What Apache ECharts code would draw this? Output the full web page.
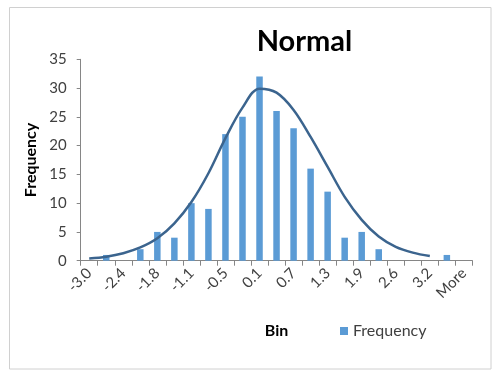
<!DOCTYPE html>
<html>
<head>
<meta charset="utf-8">
<script src="https://cdn.jsdelivr.net/npm/echarts@6/dist/echarts.min.js"></script>
<style>html,body{margin:0;padding:0;background:#fff}#c{width:500px;height:380px}</style>
</head>
<body>
<div id="c"></div>
<script>
var bins = ['-3.0','-2.7','-2.4','-2.1','-1.8','-1.4','-1.1','-0.8','-0.5','-0.2','0.1','0.4','0.7','1.0','1.3','1.6','1.9','2.3','2.6','2.9','3.2','3.5','More'];
var frequency = [0,1,0,2,5,4,10,9,22,25,32,26,23,16,12,4,5,2,0,0,0,1,0];
var normalCurve = [0.4,0.7,1.3,2.3,3.9,6.5,10.2,15.2,21.3,26.6,29.9,29.2,26.2,21.5,16.3,11.1,7.1,4.2,2.4,1.4,0.8,null,null];
var yTicks = {min:0, max:35, interval:5};

var FONT = 'Lato, "Open Sans", sans-serif';
var chart = echarts.init(document.getElementById('c'), null, {renderer:'canvas'});
chart.setOption({
  animation:false,
  backgroundColor:'#fff',
  textStyle:{fontFamily:FONT},
  graphic:[
    {type:'rect', shape:{x:9.5,y:7.5,width:481.5,height:361.5}, style:{fill:'none',stroke:'#d0d0d0',lineWidth:1}, silent:true, z:-1},
    {type:'text', x:304.5, y:42, style:{text:'Normal', font:'bold 29px '+FONT, fill:'#000', textAlign:'center', textVerticalAlign:'middle'}}
  ],
  legend:{
    left:335, top:318, icon:'rect', itemWidth:8, itemHeight:8, itemGap:6,
    data:['Frequency'],
    textStyle:{fontSize:16, color:'#404040', fontFamily:FONT}
  },
  grid:{left:80.7, right:27.6, top:59.3, bottom:119.3, containLabel:false},
  xAxis:{
    type:'category', data:bins, boundaryGap:true,
    name:'Bin', nameLocation:'middle', nameGap:62,
    nameTextStyle:{fontSize:16, fontWeight:'bold', color:'#000', fontFamily:FONT},
    axisLine:{lineStyle:{color:'#868686'}},
    axisTick:{show:true, interval:0, length:5, lineStyle:{color:'#868686'}},
    axisLabel:{interval:1, rotate:45, margin:10, fontSize:15, color:'#404040', fontFamily:FONT},
    splitLine:{show:false}
  },
  yAxis:{
    type:'value', min:yTicks.min, max:yTicks.max, interval:yTicks.interval,
    name:'Frequency', nameLocation:'middle', nameGap:34,
    nameTextStyle:{fontSize:16, fontWeight:'bold', color:'#000', fontFamily:FONT},
    axisLine:{show:true, lineStyle:{color:'#868686'}},
    axisTick:{show:true, length:4, lineStyle:{color:'#868686'}},
    axisLabel:{margin:14, fontSize:15, color:'#404040', fontFamily:FONT},
    splitLine:{show:false}
  },
  series:[
    {name:'Frequency', type:'bar', data:frequency, barWidth:6.5, itemStyle:{color:'#5B9BD5'}},
    {name:'Normal', type:'line', data:normalCurve, smooth:0.35, symbol:'none', connectNulls:false,
     lineStyle:{color:'#3B648E', width:2.5}, itemStyle:{color:'#3B648E'}, z:3}
  ]
});
</script>
</body>
</html>
